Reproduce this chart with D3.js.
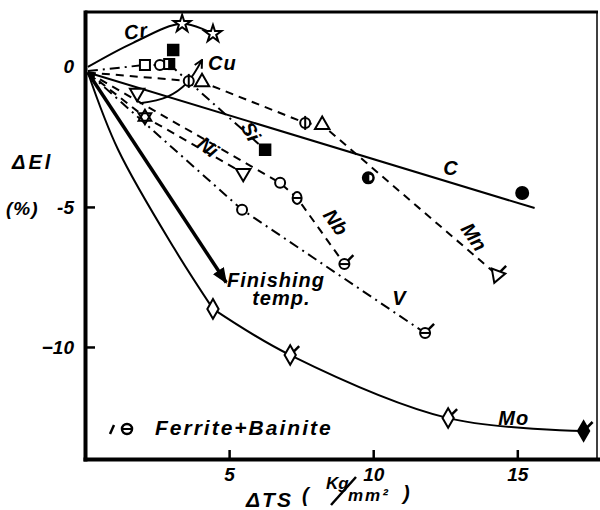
<!DOCTYPE html>
<html>
<head>
<meta charset="utf-8">
<script src="https://cdn.jsdelivr.net/npm/d3@7"></script>
<style>
  body { margin: 0; background: #fff; }
  svg text { font-family: "Liberation Sans", Arial, sans-serif; font-style: italic; font-weight: bold; fill: #000; }
</style>
</head>
<body>
<div id="chart"></div>
<script>
// axis ticks
const xTicks = [5, 10, 15];
const yTicks = [0, -5, -10];

// ΔTS (kg/mm2) and ΔEl (%), one pair of arrays per alloying element
const crX = [0.1, 1.67, 3.37, 4.44];
const crY = [0.0, 0.86, 1.54, 1.18];

const cuX = [0.1, 2.08, 2.6];
const cuY = [-0.15, 0.07, 0.07];

const siX = [2.92, 6.25];
const siY = [0.1, -2.96];
const siExtraX = [3.06];
const siExtraY = [0.6];

const mnX = [0.1, 3.6, 4.06, 7.64, 8.23, 14.3];
const mnY = [-0.2, -0.5, -0.54, -2.0, -2.07, -7.43];

const cFitX = [0.1, 15.6];
const cFitY = [-0.2, -5.04];
const cX = [9.83, 15.17];
const cY = [-3.96, -4.5];

const niX = [0.1, 2.08, 5.49];
const niY = [-0.2, -1.79, -3.79];
const niExtraX = [1.81];
const niExtraY = [-0.93];

const nbX = [0.1, 6.77, 7.36, 9.0];
const nbY = [-0.2, -4.14, -4.68, -7.04];

const vX = [0.1, 5.45, 11.8];
const vY = [-0.2, -5.1, -9.5];

const moX = [0.1, 1.15, 3.13, 4.44, 7.12, 12.6, 17.3];
const moY = [-0.2, -2.96, -6.54, -8.64, -10.29, -12.54, -13.0];

// finishing temperature arrows
const finX = [0.1, 4.9];
const finY = [-0.2, -7.7];
const finCuX = [1.9, 2.85, 3.54, 4.06];
const finCuY = [-1.3, -1.07, -0.57, 0.25];

const width = 600, height = 510;
const x = d3.scaleLinear().domain([0, 17.8]).range([85, 598]);
const y = d3.scaleLinear().domain([-14, 1.96]).range([459, 12]);

const svg = d3.select("#chart").append("svg")
    .attr("width", width)
    .attr("height", height);

const defs = svg.append("defs");
defs.append("marker")
    .attr("id", "headFill")
    .attr("viewBox", "0 0 12 10")
    .attr("refX", 11).attr("refY", 5)
    .attr("markerUnits", "userSpaceOnUse")
    .attr("markerWidth", 16).attr("markerHeight", 13)
    .attr("orient", "auto")
    .append("path").attr("d", "M0,0 L12,5 L0,10 Z").attr("fill", "#000");
defs.append("marker")
    .attr("id", "headOpen")
    .attr("viewBox", "0 0 10 10")
    .attr("refX", 9).attr("refY", 5)
    .attr("markerUnits", "userSpaceOnUse")
    .attr("markerWidth", 10).attr("markerHeight", 10)
    .attr("orient", "auto")
    .append("path").attr("d", "M1,1 L9,5 L1,9").attr("fill", "none")
    .attr("stroke", "#000").attr("stroke-width", 2);

const dashed = "8,6";
const dashDot = "10,5,2,5";

// breaks: indices where the drawn curve has a corner
const series = [
    { x: crX, y: crY, dash: null, curve: d3.curveCatmullRom, marks: [null, null, "star", "star"] },
    { x: cuX, y: cuY, dash: dashDot, marks: [null, "square", "circle"] },
    { x: siX, y: siY, dash: dashDot, marks: ["squareHalf", "squareFill"] },
    { x: siExtraX, y: siExtraY, noLine: true, marks: ["squareFill"] },
    { x: mnX, y: mnY, dash: dashed, marks: [null, "circleCross", "tri", "circleCross", "tri", "triFB"] },
    { x: cFitX, y: cFitY, dash: null, marks: [null, null] },
    { x: cX, y: cY, noLine: true, marks: ["circleHalf", "circleFill"] },
    { x: niX, y: niY, dash: dashed, marks: [null, "starDavid", "triDown"] },
    { x: niExtraX, y: niExtraY, noLine: true, marks: ["triDown"] },
    { x: nbX, y: nbY, dash: dashed, marks: [null, "circle", "circleBar", "circleFB"] },
    { x: vX, y: vY, dash: dashDot, marks: [null, "circle", "circleFB"] },
    { x: moX, y: moY, dash: null, curve: d3.curveCatmullRom, breaks: [3], marks: [null, null, null, "diamond", "diamondFB", "diamondFB", "diamondFillFB"] }
];

// frame and axes
svg.append("line").attr("x1", 85).attr("x2", 598).attr("y1", 12).attr("y2", 12)
    .attr("stroke", "#000").attr("stroke-width", 3);
svg.append("line").attr("x1", 597).attr("x2", 597).attr("y1", 12).attr("y2", 459)
    .attr("stroke", "#000").attr("stroke-width", 1.5);

const xAxis = svg.append("g")
    .attr("transform", `translate(0,${y(-14)})`)
    .call(d3.axisBottom(x).tickValues(xTicks).tickSizeInner(-9).tickSizeOuter(0).tickPadding(9).tickFormat(d3.format("d")));
const yAxis = svg.append("g")
    .attr("transform", `translate(${x(0)},0)`)
    .call(d3.axisLeft(y).tickValues(yTicks).tickSizeInner(-10).tickSizeOuter(0).tickPadding(11)
        .tickFormat(d => d === 0 ? "0" : (d === -5 ? "-5" : "\u221210")));
[xAxis, yAxis].forEach(a => {
    a.select(".domain").attr("stroke-width", 4).attr("stroke-linecap", "square");
    a.selectAll(".tick line").attr("stroke-width", 2.5);
    a.selectAll(".tick text").style("font-size", "19px");
});
yAxis.selectAll(".tick").filter(d => d === 0).select("line").remove();

// series lines
const lineGen = d3.line().x(d => x(d[0])).y(d => y(d[1]));
const lines = svg.append("g");
series.filter(s => !s.noLine).forEach(s => {
    const pts = s.x.map((v, i) => [v, s.y[i]]);
    const cuts = [0, ...(s.breaks || []), pts.length - 1];
    for (let k = 0; k < cuts.length - 1; k++) {
        lines.append("path")
            .attr("d", lineGen.curve(s.curve || d3.curveLinear)(pts.slice(cuts[k], cuts[k + 1] + 1)))
            .attr("fill", "none")
            .attr("stroke", "#000")
            .attr("stroke-width", 2)
            .attr("stroke-dasharray", s.dash);
    }
});

// finishing temperature arrows
lines.append("path")
    .attr("d", lineGen.curve(d3.curveLinear)(finX.map((v, i) => [v, finY[i]])))
    .attr("fill", "none").attr("stroke", "#000").attr("stroke-width", 3.5)
    .attr("marker-end", "url(#headFill)");
lines.append("path")
    .attr("d", lineGen.curve(d3.curveCatmullRom)(finCuX.map((v, i) => [v, finCuY[i]])))
    .attr("fill", "none").attr("stroke", "#000").attr("stroke-width", 2)
    .attr("marker-end", "url(#headOpen)");

// markers
function drawMark(g, kind, cx, cy) {
    const m = g.append("g").attr("transform", `translate(${cx},${cy})`)
        .attr("stroke", "#000").attr("stroke-width", 2).attr("fill", "#fff");
    const sym = (type, size) => m.append("path").attr("d", d3.symbol(type, size)());
    const fb = () => m.append("line").attr("x1", -2).attr("y1", 2).attr("x2", 9).attr("y2", -9).attr("stroke-width", 2.5);
    switch (kind) {
        case "star": sym(d3.symbolStar, 90); break;
        case "square": sym(d3.symbolSquare, 100); break;
        case "squareFill": sym(d3.symbolSquare, 110).attr("fill", "#000"); break;
        case "squareHalf":
            sym(d3.symbolSquare, 100);
            m.append("rect").attr("x", 0).attr("y", -5).attr("width", 5).attr("height", 10).attr("fill", "#000");
            break;
        case "circle": m.append("circle").attr("r", 5); break;
        case "circleFill": m.append("circle").attr("r", 6).attr("fill", "#000"); break;
        case "circleHalf":
            m.append("circle").attr("r", 5.5).attr("fill", "#000");
            m.append("path").attr("d", "M1,-3 A3,3 0 0 1 1,3 Z").attr("fill", "#fff").attr("stroke", "none");
            break;
        case "circleCross":
            m.append("circle").attr("r", 5);
            m.append("line").attr("x1", 0).attr("x2", 0).attr("y1", -7).attr("y2", 7);
            break;
        case "circleBar":
            m.append("ellipse").attr("rx", 4.5).attr("ry", 6);
            m.append("line").attr("x1", -4.5).attr("x2", 4.5).attr("y1", 0).attr("y2", 0);
            break;
        case "circleFB":
            fb();
            m.append("circle").attr("r", 5);
            m.append("line").attr("x1", -5).attr("x2", 5).attr("y1", 0).attr("y2", 0);
            break;
        case "tri": sym(d3.symbolTriangle, 90); break;
        case "triDown": sym(d3.symbolTriangle, 90).attr("transform", "rotate(180)"); break;
        case "triFB": fb(); sym(d3.symbolTriangle, 90).attr("transform", "rotate(200)"); break;
        case "starDavid":
            sym(d3.symbolTriangle, 70);
            sym(d3.symbolTriangle, 70).attr("transform", "rotate(180)").attr("fill", "none");
            break;
        case "diamond": sym(d3.symbolDiamond, 110); break;
        case "diamondFB": fb(); sym(d3.symbolDiamond, 110); break;
        case "diamondFillFB": fb(); sym(d3.symbolDiamond, 110).attr("fill", "#000"); break;
    }
}
const marks = svg.append("g");
series.forEach(s => s.marks.forEach((k, i) => {
    if (k) drawMark(marks, k, x(s.x[i]), y(s.y[i]));
}));

// in-plot labels
const labels = [
    { t: "Cr", x: 1.39, y: 0.96, r: -8 },
    { t: "Cu", x: 4.27, y: -0.11, r: 0 },
    { t: "C", x: 12.43, y: -3.86, r: 0 },
    { t: "V", x: 10.66, y: -8.5, r: 0 },
    { t: "Mo", x: 14.34, y: -12.79, r: 0 },
    { t: "Finishing", x: 4.93, y: -7.86, r: 0 },
    { t: "temp.", x: 5.8, y: -8.5, r: 0 }
];
labels.forEach(l => {
    svg.append("text")
        .attr("transform", `translate(${x(l.x)},${y(l.y)}) rotate(${l.r})`)
        .style("font-size", "20px")
        .style("letter-spacing", "1px")
        .text(l.t);
});
const rotLabels = [
    { t: "Si", x: 5.75, y: -2.3, r: 60 },
    { t: "Ni", x: 4.27, y: -2.86, r: 38 },
    { t: "Nb", x: 8.7, y: -5.54, r: 55 },
    { t: "Mn", x: 13.5, y: -6.07, r: 55 }
];
rotLabels.forEach(l => {
    svg.append("text")
        .attr("transform", `translate(${x(l.x)},${y(l.y)}) rotate(${l.r})`)
        .attr("text-anchor", "middle")
        .attr("dy", "0.35em")
        .style("font-size", "20px")
        .text(l.t);
});

// y axis title
svg.append("text").attr("x", 12).attr("y", 169).style("font-size", "20px").style("letter-spacing", "3px").text("\u0394El");
svg.append("text").attr("x", 6).attr("y", 215).style("font-size", "19px").style("letter-spacing", "1px").text("(%)");

// x axis title
svg.append("text").attr("x", 246).attr("y", 507).style("font-size", "21px").style("letter-spacing", "2px").text("\u0394TS");
svg.append("text").attr("x", 302).attr("y", 502).style("font-size", "20px").text("(");
svg.append("text").attr("x", 326).attr("y", 489).style("font-size", "17px").text("Kg");
svg.append("line").attr("x1", 331).attr("y1", 505).attr("x2", 356).attr("y2", 477)
    .attr("stroke", "#000").attr("stroke-width", 2.5);
svg.append("text").attr("x", 348).attr("y", 501).style("font-size", "17px").style("letter-spacing", "2px").text("mm\u00b2");
svg.append("text").attr("x", 403).attr("y", 500).style("font-size", "20px").text(")");

// Ferrite + Bainite key
svg.append("line").attr("x1", 110).attr("y1", 434).attr("x2", 114).attr("y2", 425)
    .attr("stroke", "#000").attr("stroke-width", 2.5);
svg.append("circle").attr("cx", 127).attr("cy", 429).attr("r", 5)
    .attr("fill", "#fff").attr("stroke", "#000").attr("stroke-width", 2.5);
svg.append("line").attr("x1", 122).attr("y1", 429).attr("x2", 132).attr("y2", 429)
    .attr("stroke", "#000").attr("stroke-width", 2);
svg.append("text").attr("x", 155).attr("y", 435).style("font-size", "21px").style("letter-spacing", "2px").text("Ferrite+Bainite");
</script>
</body>
</html>
